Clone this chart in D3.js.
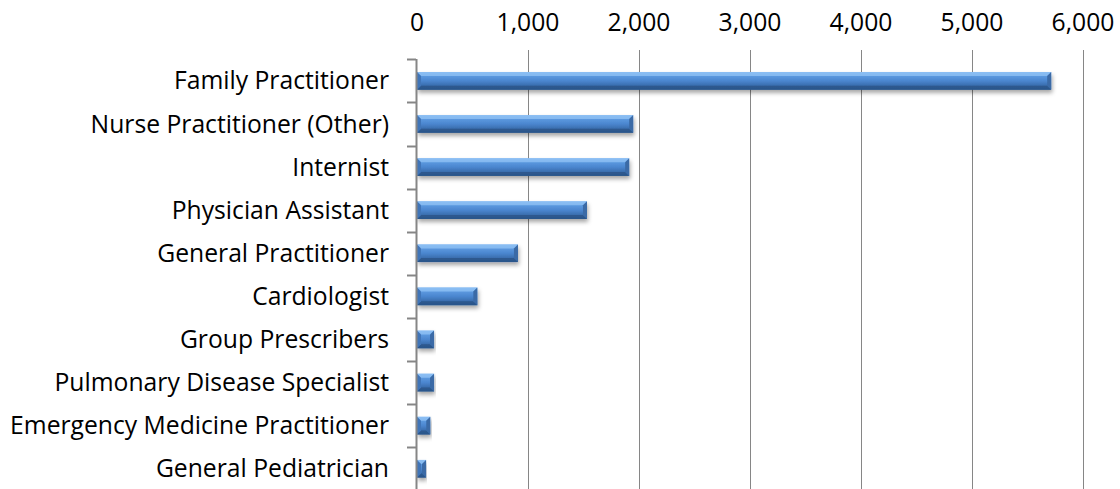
<!DOCTYPE html>
<html><head><meta charset="utf-8">
<script src="https://cdn.jsdelivr.net/npm/d3@7"></script>
<style>body{margin:0;background:#fff}svg{display:block}text{font-family:"Open Sans",sans-serif;fill:#000}</style>
</head><body>
<svg id="c" width="1120" height="489"></svg>
<script>
const categories = ["Family Practitioner","Nurse Practitioner (Other)","Internist","Physician Assistant","General Practitioner","Cardiologist","Group Prescribers","Pulmonary Disease Specialist","Emergency Medicine Practitioner","General Pediatrician"];
const values = [5718, 1952, 1916, 1536, 914, 548, 158, 158, 124, 86];
const tickValues = [0,1000,2000,3000,4000,5000,6000];

const svg = d3.select("#c");
const x = d3.scaleLinear().domain([0,6000]).range([416.5,1082.5]);
const y = d3.scaleBand().domain(categories).range([59.3,490.3]).paddingInner(0.59).paddingOuter(0.295);
const step = y.step();
const grid = "#868686";
const FS = "24.7px";

const defs = svg.append("defs");
const f = defs.append("filter").attr("id","sh").attr("x","-10%").attr("y","-50%").attr("width","120%").attr("height","220%");
f.append("feDropShadow").attr("dx",1).attr("dy",3).attr("stdDeviation",2).attr("flood-color","#000").attr("flood-opacity",0.35);
const g = defs.append("linearGradient").attr("id","gr").attr("x1",0).attr("y1",0).attr("x2",0).attr("y2",1);
[[0,"#7fb6f2"],[0.2,"#5d9ae0"],[0.5,"#4b86cf"],[0.75,"#3b6fb0"],[1,"#2e5a92"]].forEach(s=>g.append("stop").attr("offset",s[0]).attr("stop-color",s[1]));

svg.append("g").selectAll("line").data(tickValues.slice(1)).join("line")
  .attr("x1",d=>Math.round(x(d))+0.5).attr("x2",d=>Math.round(x(d))+0.5)
  .attr("y1",50).attr("y2",489).attr("stroke",grid).attr("stroke-width",1);

const axis = d3.axisTop(x).tickValues(tickValues).tickFormat(d3.format(",")).tickSize(0).tickPadding(0);
const ag = svg.append("g").attr("transform","translate(0,31)").call(axis);
ag.select(".domain").remove();
ag.selectAll("text").style("font-size",FS).attr("fill","#000").style("font-family","'Open Sans',sans-serif");

const bars = svg.append("g").selectAll("g").data(categories.map((c,i)=>({c,v:values[i]}))).join("g").attr("filter","url(#sh)");
bars.each(function(d){
  const gg = d3.select(this);
  const x0 = x(0)+0.5, x1 = x(d.v), y0 = y(d.c), h = y.bandwidth(), y1 = y0+h;
  const b = Math.min(4, (x1-x0)/2);
  gg.append("rect").attr("x",x0).attr("y",y0).attr("width",x1-x0).attr("height",h).attr("fill","url(#gr)");
  gg.append("polygon").attr("points",[[x0,y0],[x1,y0],[x1-b,y0+b],[x0+b,y0+b]].join(" ")).attr("fill","#8ec0f4").attr("opacity",0.8);
  gg.append("polygon").attr("points",[[x0,y1],[x1,y1],[x1-b,y1-b],[x0+b,y1-b]].join(" ")).attr("fill","#2b5689").attr("opacity",0.85);
  gg.append("polygon").attr("points",[[x1,y0],[x1,y1],[x1-b,y1-b],[x1-b,y0+b]].join(" ")).attr("fill","#3a6aa6");
  gg.append("polygon").attr("points",[[x0,y0],[x0,y1],[x0+b,y1-b],[x0+b,y0+b]].join(" ")).attr("fill","#3f74b8");
});

svg.append("line").attr("x1",416.5).attr("x2",416.5).attr("y1",59).attr("y2",489).attr("stroke",grid).attr("stroke-width",2);
svg.append("g").selectAll("line").data(d3.range(0,11)).join("line")
  .attr("x1",407).attr("x2",416).attr("y1",i=>Math.round(59.3+i*step)+0.5).attr("y2",i=>Math.round(59.3+i*step)+0.5)
  .attr("stroke",grid).attr("stroke-width",2);

svg.append("g").selectAll("text").data(categories).join("text")
  .attr("x",389).attr("y",d=>y(d)+y.bandwidth()/2).attr("dy","0.35em").attr("text-anchor","end")
  .style("font-size",FS).text(d=>d);
</script>
</body></html>
